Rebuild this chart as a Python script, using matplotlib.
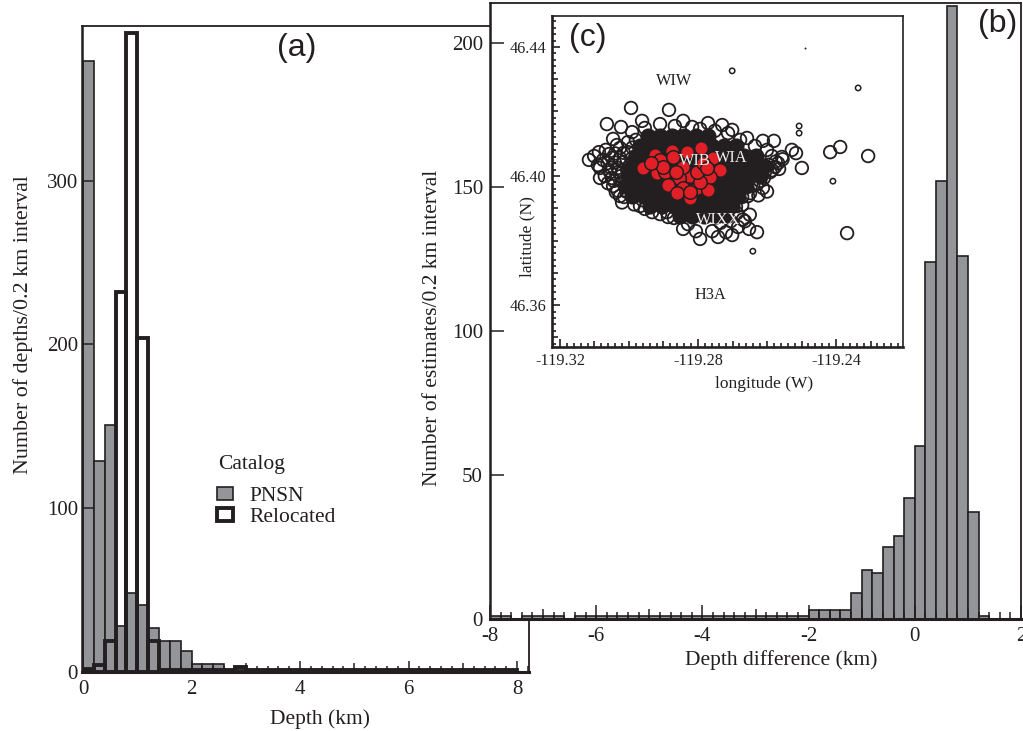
import numpy as np
import matplotlib
matplotlib.use("Agg")
import matplotlib.pyplot as plt
from matplotlib.ticker import MultipleLocator
from matplotlib.patches import Patch

plt.rcParams['font.family'] = ['Liberation Serif', 'DejaVu Serif']
plt.rcParams['axes.unicode_minus'] = False

edges_a = np.arange(0, 8.01, 0.2)
pnsn = [373,129,151,28,48,41,27,19,19,13,5,5,5,1,2]+[1]*25
reloc = [2,4,19,232,390,204,19,1,1,1,1,1,1,1,3]+[1]*25
edges_b = np.arange(-8, 2.01, 0.2)
diff = [1,1,0,1,1,1,1,0,1,1,1,1,1,1,1,1,1,1,1,1,1,1,1,1,1,1,1,1,1,1,
        3,3,3,3,9,17,16,25,29,42,60,124,152,213,126,37,1,0,0,0]

# catalog events (longitude, latitude)
tiny_lon = [-119.2490]
tiny_lat = [46.4397]
small_lon = [-119.2701,-119.2336,-119.2507,-119.2507,-119.2409,-119.2641]
small_lat = [46.4326,46.4273,46.4155,46.4133,46.3984,46.3767]
open_lon = [-119.2417,-119.2388,-119.2307,-119.2368,
 -119.2994,-119.2884,-119.2962,-119.3064,-119.3023,-119.2843,-119.2771,-119.2730,-119.2701,-119.3046,
 -119.3087,-119.3116,-119.3084,-119.3049,-119.3026,-119.2954,-119.2890,-119.2843,-119.2794,-119.2742,
 -119.2701,-119.2652,-119.2629,-119.2687,-119.2672,-119.2649,-119.2612,-119.2499,-119.2577,-119.2557,
 -119.2516,-119.2528,-119.2580,-119.2612,-119.2658,
 -119.3067,-119.3049,-119.3026,-119.3003,-119.3075,-119.3052,-119.3026,-119.3003,-119.2980,-119.3070,
 -119.3046,-119.3023,-119.2997,-119.3032,-119.3009,-119.2986,-119.3014,-119.2968,-119.2933,-119.2910,
 -119.2870,-119.3090,-119.3101,-119.3084,-119.3061,-119.3038,-119.3035,-119.2991,-119.2954,-119.2910,
 -119.2867,-119.2817,-119.2794,-119.2751,-119.2713,-119.2678,-119.2635,-119.2600,-119.2586,-119.2568,
 -119.2591,-119.2609,-119.2629,-119.2655,-119.2672,-119.2664,-119.2684,-119.2719,-119.2759,-119.2806,
 -119.2829,-119.2887,
 -119.3058,-119.3040,-119.3015,-119.2990,-119.3062,-119.3041,-119.3017,-119.2992,-119.3055,-119.3030,
 -119.3005,-119.3044,-119.3020,-119.2998,-119.3033,-119.3008,-119.2978,-119.2960,-119.3020,-119.2985,
 -119.2555,-119.2575,-119.2595,-119.2565,-119.2585,-119.2605,-119.2620,-119.2640,-119.2600,-119.2625,
 -119.2690,-119.2705,-119.2735,-119.2650,-119.2670]
open_lat = [46.4074,46.4090,46.4062,46.3823,
 46.4211,46.4205,46.4171,46.4161,46.4152,46.4171,46.4164,46.4158,46.4143,46.4115,
 46.4074,46.4050,46.4025,46.3994,46.3938,46.3898,46.3888,46.3836,46.3805,46.3811,
 46.3817,46.3836,46.3826,46.3885,46.3935,46.3947,46.3963,46.4025,46.4028,46.4059,
 46.4071,46.4081,46.4109,46.4109,46.4118,
 46.4081,46.4056,46.4087,46.4105,46.4050,46.4025,46.4056,46.4074,46.4112,46.4000,
 46.3969,46.4000,46.4034,46.4025,46.3969,46.3935,46.3935,46.3907,46.3888,46.3882,
 46.3870,46.4034,46.4062,46.3994,46.3978,46.3950,46.4096,46.4136,46.4149,46.4161,
 46.4155,46.4152,46.4146,46.4140,46.4133,46.4112,46.4093,46.4081,46.4062,46.4040,
 46.4012,46.3994,46.3975,46.3938,46.3910,46.3860,46.3842,46.3826,46.3829,46.3829,
 46.3851,46.3873,
 46.4068,46.4070,46.4072,46.4088,46.4040,46.4042,46.4043,46.4054,46.4012,46.4013,
 46.4018,46.3985,46.3982,46.3990,46.3955,46.3952,46.3950,46.3925,46.3918,46.3912,
 46.4052,46.4045,46.4035,46.4022,46.4018,46.4015,46.3985,46.3970,46.3952,46.3940,
 46.3905,46.3860,46.3855,46.3880,46.3865]
core_lon = [-119.2945,-119.2910,-119.2875,-119.2841,-119.2806,-119.2771,
 -119.2968,-119.2933,-119.2899,-119.2864,-119.2829,-119.2794,-119.2759,-119.2725,-119.2690,
 -119.2980,-119.2945,-119.2910,-119.2875,-119.2841,-119.2806,-119.2771,-119.2736,-119.2701,-119.2667,-119.2632,
 -119.2991,-119.2957,-119.2922,-119.2887,-119.2852,-119.2817,-119.2783,-119.2748,-119.2713,-119.2678,-119.2643,-119.2609,
 -119.3003,-119.2968,-119.2933,-119.2899,-119.2864,-119.2829,-119.2794,-119.2759,-119.2725,-119.2690,-119.2655,-119.2620,
 -119.3009,-119.2974,-119.2939,-119.2904,-119.2870,-119.2835,-119.2800,-119.2765,-119.2730,-119.2696,-119.2661,
 -119.2991,-119.2957,-119.2922,-119.2887,-119.2852,-119.2817,-119.2783,-119.2748,-119.2713,-119.2684,
 -119.2939,-119.2904,-119.2870,-119.2835,-119.2800,-119.2765,-119.2730,-119.2701,
 -119.2852,-119.2817,-119.2783,-119.2748,-119.2719]
core_lat = [46.4124]*6+[46.4093]*9+[46.4062]*11+[46.4031]*12+[46.4000]*12+[46.3969]*11+[46.3938]*10+[46.3907]*8+[46.3876]*5
red_lon = [-119.2959,-119.2925,-119.2919,-119.2875,-119.2896,-119.2832,-119.2791,-119.2757,-119.2736,-119.2765,
 -119.2823,-119.2855,-119.2887,-119.2843,-119.2803,-119.2771,-119.2861,-119.2823,-119.2794,-119.2910,
 -119.2872,-119.2843,-119.2803,-119.2786,-119.2774,-119.2901,-119.2823,-119.2936,-119.2864]
red_lat = [46.4025,46.4065,46.4009,46.4078,46.4012,46.4074,46.4087,46.4056,46.4019,46.3997,
 46.4000,46.3994,46.3972,46.3963,46.3963,46.3957,46.3947,46.3932,46.3981,46.4050,
 46.4059,46.4028,46.4012,46.4040,46.4025,46.4028,46.3950,46.4040,46.4012]
stations_dark = {'WIW':(-119.2870,46.4295),'H3A':(-119.2765,46.3631)}
stations_light = {'WIB':(-119.2809,46.4047),'WIA':(-119.2704,46.4056),'WIXX':(-119.2742,46.3864)}

W,H=1023,731
fig=plt.figure(figsize=(W/100,H/100),dpi=100)
def rect(l,t,r,b): return [l/W,1-b/H,(r-l)/W,(b-t)/H]
gray='#939598'; ink='#231f20'

def tier(axis,major_every,mid,minor):
    for loc,t in zip(axis.get_minorticklocs(),axis.get_minor_ticks()):
        L = mid if abs(loc/(major_every/2)-round(loc/(major_every/2)))<1e-3 else minor
        t.tick1line.set_markersize(L)

a=fig.add_axes(rect(82,26,529,672))
a.bar(edges_a[:-1],pnsn,width=0.2,align='edge',color=gray,edgecolor=ink,linewidth=1.2)
a.bar(edges_a[:-1],reloc,width=0.2,align='edge',fill=False,edgecolor=ink,linewidth=2.8)
a.set_xlim(-0.02,8.22); a.set_ylim(0,394.5)
a.set_xticks([0,2,4,6,8]); a.xaxis.set_minor_locator(MultipleLocator(0.2))
a.set_yticks([0,100,200,300])
a.set_xlabel('Depth (km)',fontsize=15.5,color=ink,va='center')
a.xaxis.set_label_coords(0.532,-0.073)
a.set_ylabel('Number of depths/0.2 km interval',fontsize=15.8,color=ink,va='center')
a.yaxis.set_label_coords(-0.132,0.537)
a.text((297-82)/447,(672-48)/646,'(a)',transform=a.transAxes,family='Liberation Sans',fontsize=23,color=ink,ha='center',va='center')
a.text((218-82)/447,(672-465)/646,'Catalog',transform=a.transAxes,fontsize=15.5,color=ink,va='center')
a.legend(handles=[Patch(facecolor=gray,edgecolor=ink,linewidth=1.2,label='PNSN'),
                  Patch(facecolor='white',edgecolor=ink,linewidth=2.8,label='Relocated')],
         loc='upper left',bbox_to_anchor=(0.302,0.287),frameon=False,fontsize=15.5,labelspacing=0.1,
         borderpad=0,borderaxespad=0,handlelength=0.75,handleheight=0.55,handletextpad=0.75,labelcolor=ink)

b=fig.add_axes(rect(490,3,1021,619))
b.bar(edges_b[:-1],diff,width=0.2,align='edge',color=gray,edgecolor=ink,linewidth=1.2)
b.set_xlim(-8,1.93); b.set_ylim(0,214)
b.set_xticks([-8,-6,-4,-2,0,2]); b.xaxis.set_minor_locator(MultipleLocator(0.2))
b.set_yticks([0,50,100,150,200])
b.set_xlabel('Depth difference (km)',fontsize=15.5,color=ink,va='center')
b.xaxis.set_label_coords(0.548,-0.0666)
b.set_ylabel('Number of estimates/0.2 km interval',fontsize=15.5,color=ink,va='center')
b.yaxis.set_label_coords(-0.108,0.472)
b.text((998-490)/531,(619-24)/616,'(b)',transform=b.transAxes,family='Liberation Sans',fontsize=23,color=ink,ha='center',va='center')

for ax,maj,mid,mnr,ypad in ((a,8,6.5,4.5,3),(b,10,7,5,5)):
    ax.tick_params(which='major',direction='in',length=maj,width=1.1,color=ink,labelcolor=ink,labelsize=15)
    ax.tick_params(axis='x',which='major',pad=5.5)
    ax.tick_params(axis='y',which='major',pad=ypad)
    ax.tick_params(which='minor',direction='in',length=mnr,width=1.1,color=ink)
    for s in ax.spines.values(): s.set_color(ink); s.set_linewidth(1.3)
    ax.spines['bottom'].set_linewidth(2.2)
    ax.spines['left'].set_linewidth(1.8)
    tier(ax.xaxis,2,mid,mnr)

c=fig.add_axes(rect(552,16,903,347))
c.set_zorder(5)
c.set_xlim(-119.3223,-119.2206); c.set_ylim(46.347,46.4496)
c.scatter(core_lon,core_lat,s=135,color=ink,linewidths=0)
c.scatter(open_lon,open_lat,s=82,facecolors='none',edgecolors=ink,linewidths=1.3)
c.scatter(small_lon,small_lat,s=15,facecolors='none',edgecolors=ink,linewidths=1.1)
c.scatter(tiny_lon,tiny_lat,s=2,color=ink,linewidths=0)
c.scatter(red_lon,red_lat,s=95,facecolors='#e21f26',edgecolors=ink,linewidths=1.1)
for n,(x,y) in stations_dark.items():
    c.text(x,y,n,fontsize=11.7,color=ink,ha='center',va='center')
for n,(x,y) in stations_light.items():
    c.text(x,y,n,fontsize=11.7,color='#f0eeee',ha='center',va='center')
c.set_xticks([-119.32,-119.28,-119.24]); c.set_xticklabels(['-119.32','-119.28','-119.24'])
c.set_yticks([46.36,46.40,46.44]); c.set_yticklabels(['46.36','46.40','46.44'])
c.xaxis.set_minor_locator(MultipleLocator(0.002)); c.yaxis.set_minor_locator(MultipleLocator(0.002))
c.tick_params(which='major',direction='in',length=6,width=1.2,color=ink,labelcolor=ink,labelsize=11.7,pad=4)
c.tick_params(which='minor',direction='in',length=3,width=1.2,color=ink)
tier(c.xaxis,0.02,4.5,3); tier(c.yaxis,0.02,4.5,3)
for s in c.spines.values(): s.set_color(ink); s.set_linewidth(1.2)
c.spines['bottom'].set_linewidth(1.9); c.spines['left'].set_linewidth(1.9)
c.set_xlabel('longitude (W)',fontsize=12.5,color=ink,va='center')
c.xaxis.set_label_coords((764-552)/351,(347-384)/331)
c.set_ylabel('latitude (N)',fontsize=12.5,color=ink,va='center')
c.yaxis.set_label_coords((527-552)/351,(347-237)/331)
c.text((588-552)/351,(347-38)/331,'(c)',transform=c.transAxes,family='Liberation Sans',fontsize=23,color=ink,ha='center',va='center')
fig.savefig('out.png',dpi=100)
